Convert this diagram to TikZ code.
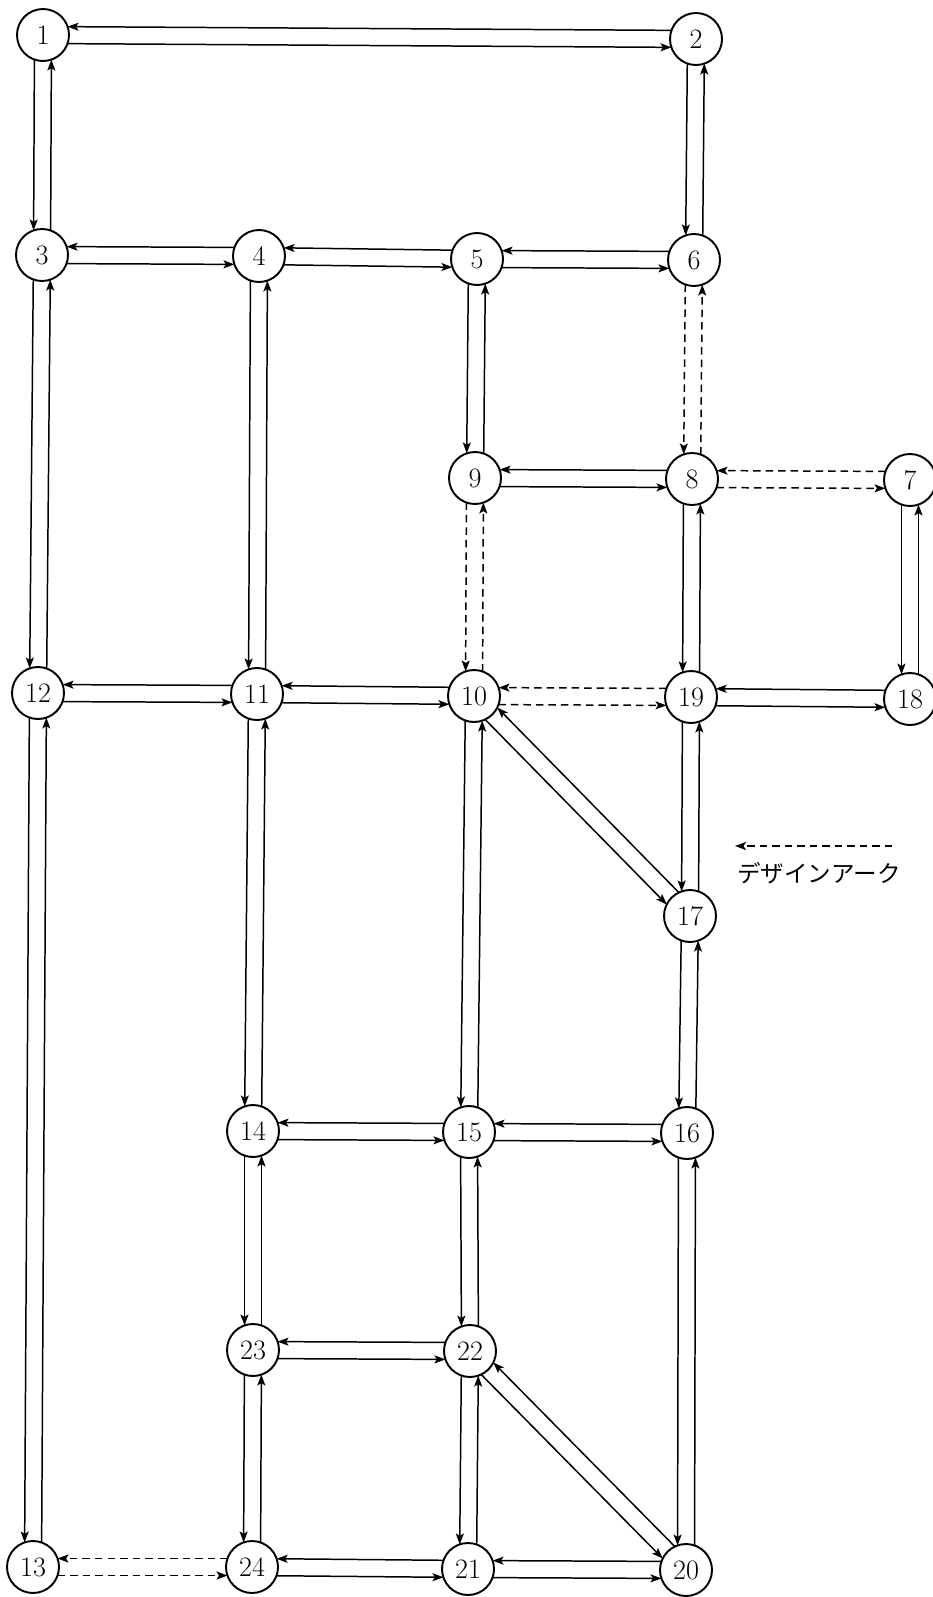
\documentclass[tikz,border=0pt]{standalone}
\usepackage{fontspec}
\newfontfamily\jpfont{Noto Sans CJK JP}
\usetikzlibrary{arrows.meta,calc}
% one arc from #2 to #3, kept on its right-hand side
\newcommand{\onearc}[3]{\draw[#1] ($(#2)!1.7mm!-90:(#3)$) -- ($(#3)!1.7mm!90:(#2)$);}
\newcommand{\biarc}[3]{\onearc{#1}{#2}{#3}\onearc{#1}{#3}{#2}}
\begin{document}
\begin{tikzpicture}[x=0.2mm,y=-0.2mm,
  stn/.style={circle,draw,line width=1.1pt,minimum size=10.4mm,inner sep=0pt,font=\fontsize{16}{19}\selectfont},
  road/.style={-{Stealth[length=2.2mm,width=1.6mm,inset=0.5mm]},line width=0.85pt,shorten >=4.9mm,shorten <=4.9mm},
  design/.style={road,dash pattern=on 1.5mm off 1mm}]
\useasboundingbox (0,0) rectangle (932,1597);
% stations
\node[stn] (n1) at (43,35) {1};
\node[stn] (n2) at (696,39) {2};
\node[stn] (n3) at (42,255) {3};
\node[stn] (n4) at (259,256) {4};
\node[stn] (n5) at (477,259) {5};
\node[stn] (n6) at (694,260) {6};
\node[stn] (n7) at (910,480) {7};
\node[stn] (n8) at (692,479) {8};
\node[stn] (n9) at (475,478) {9};
\node[stn] (n10) at (474,696) {10};
\node[stn] (n11) at (257,694) {11};
\node[stn] (n12) at (38,693) {12};
\node[stn] (n13) at (33,1567) {13};
\node[stn] (n14) at (253,1131) {14};
\node[stn] (n15) at (469,1132) {15};
\node[stn] (n16) at (687,1133) {16};
\node[stn] (n17) at (690,916) {17};
\node[stn] (n18) at (910,699) {18};
\node[stn] (n19) at (691,697) {19};
\node[stn] (n20) at (686,1570) {20};
\node[stn] (n21) at (468,1569) {21};
\node[stn] (n22) at (470,1351) {22};
\node[stn] (n23) at (253,1350) {23};
\node[stn] (n24) at (252,1567) {24};
% existing arcs
\biarc{road}{n1}{n2}
\biarc{road}{n1}{n3}
\biarc{road}{n2}{n6}
\biarc{road}{n3}{n4}
\biarc{road}{n3}{n12}
\biarc{road}{n4}{n5}
\biarc{road}{n4}{n11}
\biarc{road}{n5}{n6}
\biarc{road}{n5}{n9}
\biarc{road}{n9}{n8}
\biarc{road}{n7}{n18}
\biarc{road}{n8}{n19}
\biarc{road}{n12}{n11}
\biarc{road}{n11}{n10}
\biarc{road}{n19}{n18}
\biarc{road}{n19}{n17}
\biarc{road}{n10}{n17}
\biarc{road}{n10}{n15}
\biarc{road}{n11}{n14}
\biarc{road}{n12}{n13}
\biarc{road}{n14}{n15}
\biarc{road}{n15}{n16}
\biarc{road}{n16}{n17}
\biarc{road}{n14}{n23}
\biarc{road}{n15}{n22}
\biarc{road}{n16}{n20}
\biarc{road}{n23}{n22}
\biarc{road}{n22}{n21}
\biarc{road}{n22}{n20}
\biarc{road}{n23}{n24}
\biarc{road}{n24}{n21}
\biarc{road}{n21}{n20}
% design arcs
\biarc{design}{n6}{n8}
\biarc{design}{n8}{n7}
\biarc{design}{n9}{n10}
\biarc{design}{n10}{n19}
\biarc{design}{n13}{n24}
% legend
\coordinate (lgs) at (892,846);
\coordinate (lge) at (735,846);
\draw[design,shorten >=0pt,shorten <=0pt] (lgs) -- (lge);
\node[font=\jpfont\fontsize{13.4}{16}\selectfont] (lgtxt) at (819,873) {デザインアーク};
\end{tikzpicture}
\end{document}
